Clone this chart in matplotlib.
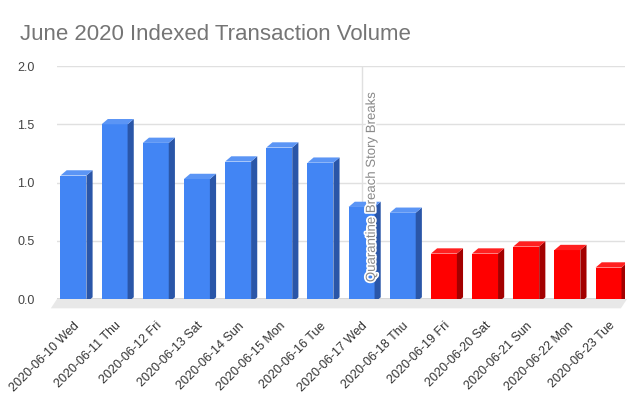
import numpy as np
import matplotlib.pyplot as plt
from matplotlib.patches import Polygon
import matplotlib.patheffects as pe

plt.rcParams['font.family'] = ['Liberation Sans', 'DejaVu Sans']

# data
dates = ["2020-06-10 Wed", "2020-06-11 Thu", "2020-06-12 Fri", "2020-06-13 Sat",
         "2020-06-14 Sun", "2020-06-15 Mon", "2020-06-16 Tue", "2020-06-17 Wed",
         "2020-06-18 Thu", "2020-06-19 Fri", "2020-06-20 Sat", "2020-06-21 Sun",
         "2020-06-22 Mon", "2020-06-23 Tue"]
volume = [1.06, 1.50, 1.34, 1.03, 1.18, 1.30, 1.17, 0.79, 0.74,
          0.39, 0.39, 0.45, 0.42, 0.27]
after_break = [False] * 9 + [True] * 5
event_idx = 7
event_label = "Quarantine Breach Story Breaks"

front = {False: '#4285f4', True: '#ff0000'}
side = {False: '#2a56a8', True: '#a30000'}
top = {False: '#5b95f5', True: '#ff2020'}

fig = plt.figure(figsize=(6.36, 3.97), dpi=100)
ax = fig.add_axes([57/636, 98/397, 568/636, 233/397])

w = 0.63
dx, dy = 0.15, 0.045  # fake depth
base = -0.03

# floor
ax.add_patch(Polygon([(-0.4, 0), (13.45, 0), (13.3, -0.08), (-0.55, -0.08)],
                     closed=True, facecolor='#e8e8e8', edgecolor='none',
                     clip_on=False, zorder=1))

for y in [0.5, 1.0, 1.5, 2.0]:
    ax.axhline(y, color='#e0e0e0', lw=1, zorder=0)
ax.axhline(0, color='#333333', lw=1, zorder=2)

for i, v in enumerate(volume):
    r = after_break[i]
    x0 = i - w / 2
    x1 = i + w / 2
    ax.bar(i, v - base, width=w, bottom=base, color=front[r], zorder=3)
    ax.add_patch(Polygon([(x1, base), (x1 + dx, base + dy), (x1 + dx, v + dy), (x1, v)],
                         closed=True, facecolor=side[r], edgecolor='none', zorder=3))
    ax.add_patch(Polygon([(x0, v), (x1, v), (x1 + dx, v + dy), (x0 + dx, v + dy)],
                         closed=True, facecolor=top[r], edgecolor='none', zorder=3))

ax.axvline(event_idx, color='#e0e0e0', lw=1, zorder=2.5)
ax.text(event_idx + 0.25, 0.145, event_label, rotation=90, fontsize=9.5,
        color='#8a8a8a', ha='center', va='bottom', zorder=5,
        path_effects=[pe.withStroke(linewidth=2.5, foreground='white')])

ax.set_xlim(-0.4, 13.4)
ax.set_ylim(0, 2.0)
ax.set_yticks([0, 0.5, 1.0, 1.5, 2.0])
ax.set_yticklabels(['0.0', '0.5', '1.0', '1.5', '2.0'], fontsize=9, color='#444444')
ax.set_xticks(range(len(dates)))
ax.set_xticklabels(dates, rotation=45, ha='right', rotation_mode='anchor',
                   fontsize=9, color='#333333')
ax.tick_params(length=0)
ax.tick_params(axis='x', pad=15)
ax.tick_params(axis='y', pad=16)
for s in ax.spines.values():
    s.set_visible(False)

fig.text(20/636, 1 - 35/397, "June 2020 Indexed Transaction Volume",
         fontsize=16, color='#757575', va='center', ha='left')

fig.savefig('out.png', dpi=100)
